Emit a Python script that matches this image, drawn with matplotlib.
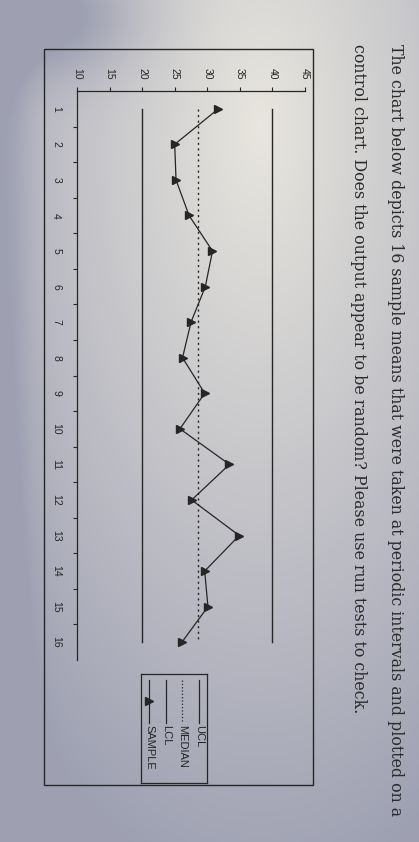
import numpy as np
import matplotlib
matplotlib.use('Agg')
import matplotlib.pyplot as plt
from matplotlib.patches import Rectangle

# Data (control chart, drawn rotated like the photo)
samples = list(range(1, 17))
sample_means = [31.7, 25.0, 25.2, 27.2, 30.8, 29.7, 27.5, 26.2,
                29.6, 25.8, 33.4, 27.6, 34.9, 29.6, 30.1, 26.1]
ucl = 40
lcl = 20
median = float(np.median(sample_means))
value_ticks = [10, 15, 20, 25, 30, 35, 40, 45]

line1 = "The chart below depicts 16 sample means that were taken at periodic intervals and plotted on a"
line2 = "control chart. Does the output appear to be random? Please use run tests to check."

W, H = 419, 842
fig = plt.figure(figsize=(W / 100, H / 100), dpi=100)

# paper background (photo lighting)
bg = fig.add_axes([0, 0, 1, 1])
yy, xx = np.mgrid[0:1:300j, 0:1:150j]
t = np.sqrt(((xx - 0.62) / 1.0) ** 2 + ((yy - 0.15) / 1.05) ** 2) * 1.15
t = t + 0.55 * np.exp(-((xx - 0.12) / 0.22) ** 2 - ((yy - 0.02) / 0.07) ** 2)
t = t + 0.3 * np.exp(-(xx / 0.07) ** 2)
t = np.clip(t, 0, 1)
light = np.array([0.91, 0.90, 0.87])
dark = np.array([0.62, 0.63, 0.70])
img = light[None, None, :] * (1 - t[..., None]) + dark[None, None, :] * t[..., None]
bg.imshow(img, aspect='auto', extent=[0, 1, 0, 1], origin='upper')
bg.set_xlim(0, 1)
bg.set_ylim(0, 1)
bg.axis('off')

ink = '#262626'

def fx(px):
    return px / W

def fy(py):
    return 1 - py / H

# outer frame
fig.patches.append(Rectangle((fx(44), fy(785)), fx(313) - fx(44), fy(49) - fy(785),
                             transform=fig.transFigure, fill=False, lw=1.0, ec=ink))

# main axes: x = value, y = sample (top to bottom)
ax = fig.add_axes([fx(77), fy(660), fx(305) - fx(77), fy(91) - fy(660)])
ax.patch.set_alpha(0)
ax.set_xlim(10, 45)
ax.set_ylim(16.5, 0.5)

ax.plot([ucl, ucl], [1, 16], color=ink, lw=1.0)
ax.plot([lcl, lcl], [1, 16], color=ink, lw=1.0)
ax.plot([median, median], [1, 16], color=ink, lw=1.0, ls=(0, (1.5, 2.5)))
ax.plot(sample_means, samples, color=ink, lw=0.9, marker='>', ms=6, mfc=ink, mec=ink)

for s in ['right', 'bottom']:
    ax.spines[s].set_visible(False)
for s in ['top', 'left']:
    ax.spines[s].set_linewidth(0.9)
    ax.spines[s].set_color(ink)

ax.xaxis.tick_top()
ax.set_xticks(value_ticks)
ax.set_xticklabels([str(v) for v in value_ticks], rotation=-90, fontsize=7.5,
                   color=ink, family='Liberation Sans')
ax.tick_params(axis='x', direction='out', length=3, width=0.8, pad=5, colors=ink)

ax.set_yticks(np.arange(1.5, 16.5, 1))
ax.set_yticklabels([])
ax.set_yticks(samples, minor=True)
ax.set_yticklabels([str(s) for s in samples], minor=True, rotation=-90,
                   fontsize=7.5, color=ink, va='center', ha='center',
                   family='Liberation Sans')
ax.tick_params(axis='y', which='major', direction='out', length=3, width=0.8, colors=ink)
ax.tick_params(axis='y', which='minor', length=0, pad=15, colors=ink)

# legend, drawn rotated
lg = fig.add_axes([fx(141), fy(783), fx(207) - fx(141), fy(674) - fy(783)])
lg.set_xlim(141, 207)
lg.set_ylim(783, 674)
lg.set_xticks([])
lg.set_yticks([])
lg.patch.set_alpha(0)
for s in lg.spines.values():
    s.set_linewidth(0.9)
    s.set_color(ink)
entries = [('UCL', 199, '-', None), ('MEDIAN', 182, ':', None),
           ('LCL', 166, '-', None), ('SAMPLE', 149, '-', '>')]
for name, x, ls, mk in entries:
    lg.plot([x, x], [680, 723], color=ink, lw=0.9, ls=ls)
    if mk:
        lg.plot([x], [701], marker=mk, ms=5.5, color=ink)
    lg.text(x, 725, name, rotation=-90, ha='center', va='top', fontsize=8,
            color=ink, family='Liberation Sans')

# question text
fig.text(fx(395), fy(44), line1, rotation=-90, ha='center', va='top',
         fontsize=11.4, family='DejaVu Serif', color='#2b2b2b')
fig.text(fx(358), fy(44), line2, rotation=-90, ha='center', va='top',
         fontsize=11.4, family='DejaVu Serif', color='#2b2b2b')

fig.savefig('out.png', dpi=100)
